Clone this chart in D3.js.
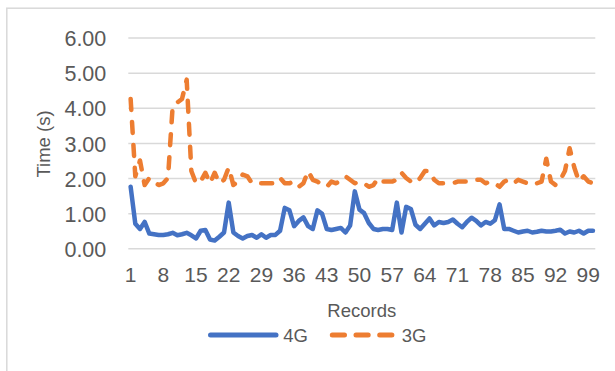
<!DOCTYPE html>
<html>
<head>
<meta charset="utf-8">
<script src="https://cdn.jsdelivr.net/npm/d3@7"></script>
<style>
  html, body { margin: 0; padding: 0; background: #ffffff; }
  svg { display: block; }
  text { font-family: "Liberation Sans", Arial, sans-serif; fill: #595959; }
</style>
</head>
<body>
<svg id="chart" width="615" height="371"></svg>
<script>
// ---- data ----
const records = d3.range(1, 101);
const series4G = [
  1.75, 0.70, 0.55, 0.75, 0.42, 0.40, 0.38, 0.38, 0.40, 0.44,
  0.37, 0.40, 0.44, 0.37, 0.28, 0.50, 0.52, 0.25, 0.22, 0.33,
  0.45, 1.30, 0.45, 0.35, 0.28, 0.35, 0.38, 0.30, 0.40, 0.30,
  0.38, 0.38, 0.50, 1.15, 1.08, 0.63, 0.78, 0.88, 0.63, 0.55,
  1.08, 0.98, 0.55, 0.52, 0.55, 0.58, 0.45, 0.65, 1.62, 1.10,
  1.00, 0.72, 0.55, 0.52, 0.55, 0.55, 0.52, 1.30, 0.45, 1.18,
  1.12, 0.67, 0.55, 0.70, 0.85, 0.65, 0.75, 0.72, 0.75, 0.82,
  0.70, 0.60, 0.75, 0.87, 0.78, 0.65, 0.75, 0.70, 0.80, 1.25,
  0.55, 0.55, 0.50, 0.45, 0.48, 0.50, 0.45, 0.47, 0.50, 0.48,
  0.48, 0.50, 0.53, 0.42, 0.48, 0.45, 0.50, 0.42, 0.50, 0.50
];
const series3G = [
  4.25, 2.05, 2.50, 1.80, 2.00, 1.90, 1.80, 1.85, 2.00, 4.05,
  4.15, 4.25, 4.80, 2.20, 1.85, 1.90, 2.15, 1.85, 2.15, 1.85,
  1.95, 2.30, 1.80, 1.90, 2.10, 2.05, 1.85, 1.85, 1.85, 1.85,
  1.85, 1.85, 2.00, 1.85, 1.85, 1.90, 1.75, 1.85, 2.20, 1.95,
  1.90, 1.80, 1.75, 1.90, 1.85, 1.95, 2.05, 1.95, 1.85, 1.90,
  1.85, 1.75, 1.80, 2.00, 1.90, 1.90, 1.90, 1.95, 2.15, 2.00,
  1.90, 1.85, 2.00, 2.20, 2.20, 1.95, 1.85, 1.85, 1.85, 1.85,
  1.90, 1.90, 1.90, 1.90, 1.95, 1.95, 1.85, 1.90, 1.85, 1.75,
  1.90, 1.95, 1.85, 1.95, 1.90, 1.85, 1.90, 1.85, 1.90, 2.55,
  1.90, 1.80, 1.95, 2.20, 2.85, 2.30, 1.90, 2.05, 1.90, 1.85
];
const xTickLabels = [1, 8, 15, 22, 29, 36, 43, 50, 57, 64, 71, 78, 85, 92, 99];
const yTickValues = [0, 1, 2, 3, 4, 5, 6];
const seriesNames = ["4G", "3G"];
const seriesColors = ["#4472C4", "#ED7D31"];
const yTitle = "Time (s)";
const xTitle = "Records";

// ---- layout ----
const svg = d3.select("#chart");
const plot = { left: 128.3, right: 595.3, top: 37.5, bottom: 248.3 };

// chart border
svg.append("rect")
  .attr("x", 6.8).attr("y", 8.2)
  .attr("width", 700).attr("height", 500)
  .attr("fill", "none").attr("stroke", "#d9d9d9").attr("stroke-width", 1.5);

const x = d3.scaleBand().domain(records).range([plot.left, plot.right]).padding(0);
const xc = d => x(d) + x.bandwidth() / 2;
const y = d3.scaleLinear().domain([0, 6]).range([plot.bottom, plot.top]);

// gridlines
const grid = svg.append("g")
  .attr("transform", `translate(${plot.left},0)`)
  .call(d3.axisLeft(y).tickValues(yTickValues).tickSize(-(plot.right - plot.left)).tickFormat(""));
grid.select(".domain").remove();
grid.selectAll(".tick line").attr("stroke", "#d9d9d9").attr("stroke-width", 1.5);

// y axis labels
const yAxis = svg.append("g")
  .attr("transform", `translate(${plot.left},0)`)
  .call(d3.axisLeft(y).tickValues(yTickValues).tickSize(0).tickPadding(22).tickFormat(d3.format(".2f")));
yAxis.select(".domain").remove();
yAxis.selectAll(".tick text")
  .style("font-family", "'Liberation Sans', Arial, sans-serif")
  .style("font-size", "21.5px").attr("fill", "#595959").attr("dy", "0.38em");

// x axis
const xAxis = svg.append("g")
  .attr("transform", `translate(0,${plot.bottom})`)
  .call(d3.axisBottom(x).tickValues(xTickLabels).tickSize(0).tickPadding(19));
xAxis.select(".domain").remove();
xAxis.selectAll(".tick text")
  .style("font-family", "'Liberation Sans', Arial, sans-serif")
  .style("font-size", "21px").attr("fill", "#595959").attr("dy", "0.71em");

// series lines
const line = d3.line().x((d, i) => xc(records[i])).y(d => y(d));
svg.append("path").datum(series3G)
  .attr("d", line).attr("fill", "none")
  .attr("stroke", seriesColors[1]).attr("stroke-width", 4.5)
  .attr("stroke-dasharray", "11,12").attr("stroke-linecap", "round").attr("stroke-linejoin", "round");
svg.append("path").datum(series4G)
  .attr("d", line).attr("fill", "none")
  .attr("stroke", seriesColors[0]).attr("stroke-width", 4.5)
  .attr("stroke-linecap", "round").attr("stroke-linejoin", "round");

// axis titles
svg.append("text")
  .attr("transform", "translate(50,144) rotate(-90)")
  .attr("text-anchor", "middle")
  .style("font-size", "18.5px")
  .text(yTitle);
svg.append("text")
  .attr("x", (plot.left + plot.right) / 2).attr("y", 316.7)
  .attr("text-anchor", "middle")
  .style("font-size", "18.5px")
  .text(xTitle);

// legend
const legend = svg.append("g");
legend.append("line")
  .attr("x1", 210.5).attr("x2", 276).attr("y1", 335).attr("y2", 335)
  .attr("stroke", seriesColors[0]).attr("stroke-width", 5).attr("stroke-linecap", "round");
legend.append("text").attr("x", 283.3).attr("y", 341.7).style("font-size", "18.5px").text(seriesNames[0]);
legend.append("line")
  .attr("x1", 332.3).attr("x2", 393).attr("y1", 335).attr("y2", 335)
  .attr("stroke", seriesColors[1]).attr("stroke-width", 5).attr("stroke-linecap", "round")
  .attr("stroke-dasharray", "12.2,11.5");
legend.append("text").attr("x", 401.7).attr("y", 341.7).style("font-size", "18.5px").text(seriesNames[1]);
</script>
</body>
</html>
